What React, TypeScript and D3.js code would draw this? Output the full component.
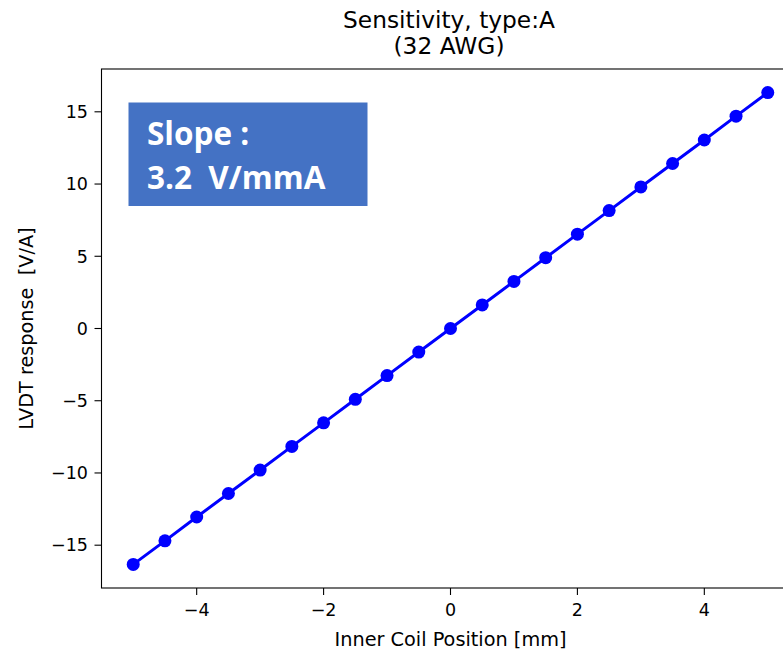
import React from "react";
import * as d3 from "d3";

const positions = [-5, -4.5, -4, -3.5, -3, -2.5, -2, -1.5, -1, -0.5, 0, 0.5, 1, 1.5, 2, 2.5, 3, 3.5, 4, 4.5, 5];
const responses = [-16.33, -14.7, -13.05, -11.42, -9.8, -8.16, -6.53, -4.9, -3.26, -1.63, 0, 1.63, 3.26, 4.9, 6.53, 8.16, 9.8, 11.42, 13.05, 14.7, 16.33];
const xTicks = [-4, -2, 0, 2, 4];
const yTicks = [-15, -10, -5, 0, 5, 10, 15];
const titleLines = ["Sensitivity, type:A", "(32 AWG)"];
const boxLines = ["Slope :", "3.2  V/mmA"];

const W = 783;
const H = 650;
const L = 101.5, R = 799.5, T = 69, B = 588;
const FONT = "'DejaVu Sans', sans-serif";

const fmt = (v: number) => (v < 0 ? "\u2212" + Math.abs(v) : String(v));

export default function App() {
  const xMin = d3.min(positions)!, xMax = d3.max(positions)!;
  const yMin = d3.min(responses)!, yMax = d3.max(responses)!;
  const xPad = (xMax - xMin) * 0.05;
  const yPad = (yMax - yMin) * 0.05;
  const x = d3.scaleLinear().domain([xMin - xPad, xMax + xPad]).range([L, R]);
  const y = d3.scaleLinear().domain([yMin - yPad, yMax + yPad]).range([B, T]);
  const pts = positions.map((p, i) => [p, responses[i]] as [number, number]);
  const line = d3.line<[number, number]>().x((d) => x(d[0])).y((d) => y(d[1]));
  const cx = (L + R) / 2;

  return (
    <svg width={W} height={H} style={{ position: "absolute", left: 0, top: 0, background: "#fff" }} fontFamily={FONT}>
      <rect x={0} y={0} width={W} height={H} fill="#fff" />
      {titleLines.map((t, i) => (
        <text key={t} x={cx - 1.5} y={27.5 + i * 26} textAnchor="middle" fontSize={23.3} fill="#000">{t}</text>
      ))}
      {/* axes frame */}
      <rect x={L} y={T} width={R - L} height={B - T} fill="none" stroke="#000" strokeWidth={1.1} />
      {/* x ticks */}
      {xTicks.map((t) => (
        <g key={"x" + t}>
          <line x1={x(t)} x2={x(t)} y1={B} y2={B + 7} stroke="#000" strokeWidth={1.1} />
          <text x={x(t)} y={616} textAnchor="middle" fontSize={17.5} fill="#000">{fmt(t)}</text>
        </g>
      ))}
      {/* y ticks */}
      {yTicks.map((t) => (
        <g key={"y" + t}>
          <line x1={L - 7} x2={L} y1={y(t)} y2={y(t)} stroke="#000" strokeWidth={1.1} />
          <text x={88} y={y(t)} dy="0.36em" textAnchor="end" fontSize={17.5} fill="#000">{fmt(t)}</text>
        </g>
      ))}
      <text x={cx} y={645.5} textAnchor="middle" fontSize={19.3} fill="#000">Inner Coil Position [mm]</text>
      <text transform={`translate(32.5, ${(T + B) / 2}) rotate(-90)`} textAnchor="middle" fontSize={19.3} fill="#000" style={{ whiteSpace: "pre" }}>
        LVDT response  [V/A]
      </text>
      {/* data */}
      <path d={line(pts) || ""} fill="none" stroke="#0000ff" strokeWidth={3} />
      {pts.map((d, i) => (
        <circle key={i} cx={x(d[0])} cy={y(d[1])} r={6.5} fill="#0000ff" />
      ))}
      {/* annotation box */}
      <rect x={128.5} y={102.5} width={239} height={103.5} fill="#4472c4" />
      {boxLines.map((t, i) => (
        <text key={t} x={147} y={145 + i * 44.3} fontSize={31.5} fontWeight="bold" fill="#fff" fontFamily="'Open Sans', sans-serif" style={{ whiteSpace: "pre" }}>{t}</text>
      ))}
    </svg>
  );
}
